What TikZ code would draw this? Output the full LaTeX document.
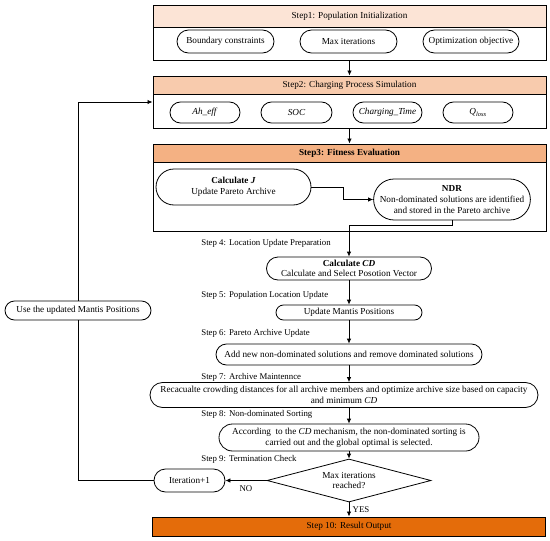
\documentclass[tikz,border=0pt]{standalone}
\usepackage{fontspec}
\setmainfont{Liberation Serif}
\usepackage{tikz}
\usetikzlibrary{shapes}
\usetikzlibrary{arrows}
\usetikzlibrary{arrows.meta}
\usetikzlibrary{positioning}
\usetikzlibrary{calc}

\definecolor{headA}{RGB}{252,228,214}
\definecolor{headB}{RGB}{248,203,173}
\definecolor{headC}{RGB}{244,177,131}
\definecolor{headD}{RGB}{228,108,10}

\begin{document}
\begin{tikzpicture}[x=1pt, y=-1pt, line width=0.8pt,
    font=\fontsize{9.2}{10.6}\selectfont,
    >={Latex[length=5pt, width=4.5pt]},
    pill/.style={draw, rounded rectangle, inner sep=1pt, align=center},
    stepbox/.style={draw, rectangle, minimum width=393, inner sep=0pt, line width=1pt},
    steplabel/.style={anchor=west, inner sep=0pt, font=\fontsize{8.8}{10}\selectfont}]
				\useasboundingbox (0, 0) rectangle (550, 541);

				% Step 1
				\node[stepbox, minimum height=33] (b1) at (349.5, 43.5) {};
				\node[stepbox, minimum height=22, fill=headA] (h1) at (349.5, 16) {Step1: Population Initialization};
				\node[pill, minimum width=99, minimum height=23] (bc) at (225.5, 41.5) {Boundary constraints};
				\node[pill, minimum width=99, minimum height=23] (mi) at (348.5, 41.5) {Max iterations};
				\node[pill, minimum width=98, minimum height=23] (oo) at (471, 41.5) {Optimization objective};

				% Step 2
				\node[stepbox, minimum height=34] (b2) at (349.5, 111) {};
				\node[stepbox, minimum height=18, fill=headB] (h2) at (349.5, 85) {Step2: Charging Process Simulation};
				\node[pill, minimum width=72, minimum height=21] (ah) at (205, 112.5) {\textit{Ah\_eff}};
				\node[pill, minimum width=73, minimum height=21] (soc) at (296.5, 112.5) {\textit{SOC}};
				\node[pill, minimum width=71, minimum height=21] (ct) at (387.5, 112.5) {\textit{Charging\_Time}};
				\node[pill, minimum width=72, minimum height=21] (ql) at (478, 112.5) {\textit{Q}\textsubscript{\textit{loss}}};

				% Step 3
				\node[stepbox, minimum height=69] (b3) at (349.5, 196.5) {};
				\node[stepbox, minimum height=18, fill=headC] (h3) at (349.5, 153) {\textbf{Step3: Fitness Evaluation}};
				\node[pill, minimum width=157, minimum height=36] (cj) at (233.5, 187) {\textbf{Calculate \textit{J}}\\Update Pareto Archive};
				\node[pill, minimum width=152, minimum height=41] (ndr) at (452, 199.5) {\textbf{NDR}\\Non-dominated solutions are identified\\and stored in the Pareto archive};

				% Steps 4 to 9
				\node[steplabel] (s4) at (201, 243.5) {Step 4: Location Update Preparation};
				\node[pill, minimum width=167, minimum height=23] (cd) at (349, 268.5) {\textbf{Calculate \textit{CD}}\\Calculate and Select Posotion Vector};
				\node[steplabel] (s5) at (201, 295.5) {Step 5: Population Location Update};
				\node[pill, minimum width=148, minimum height=15] (ump) at (349, 312.5) {Update Mantis Positions};
				\node[steplabel] (s6) at (201, 333.5) {Step 6: Pareto Archive Update};
				\node[pill, minimum width=268, minimum height=21] (add) at (349, 354.5) {Add new non-dominated solutions and remove dominated solutions};
				\node[steplabel] (s7) at (201, 377.5) {Step 7: Archive Maintennce};
				\node[pill, minimum width=388, minimum height=25, inner sep=0pt] (rec) at (344, 395) {Recacualte crowding distances for all archive members and optimize archive size based on capacity\\and minimum \textit{CD}};
				\node[steplabel] (s8) at (201, 414.5) {Step 8: Non-dominated Sorting};
				\node[pill, minimum width=262, minimum height=27] (acc) at (349, 437.5) {According~ to the \textit{CD} mechanism, the non-dominated sorting is\\carried out and the global optimal is selected.};
				\node[steplabel] (s9) at (201, 459.5) {Step 9: Termination Check};
				\node[draw, diamond, aspect=3.8, minimum width=164, minimum height=43, inner sep=0pt, align=center] (dia) at (349, 480.5) {Max iterations\\reached?};
				\node[pill, minimum width=73, minimum height=23] (it) at (189.5, 480.5) {Iteration+1};
				\node[pill, minimum width=148, minimum height=19] (use) at (78, 310.5) {Use the updated Mantis Positions};

				% Step 10
				\node[stepbox, minimum height=19, fill=headD] (s10) at (349, 526.5) {Step 10: Result Output};

				% connectors
				\draw[->] (b1.south) -- (h2.north);
				\draw[->] (b2.south) -- (h3.north);
				\draw[->] (cj.east) -- ++(32, 0) |- (ndr.west);
				\draw[->] (ndr.south) -- ++(0, 5) -| (cd.north);
				\draw[->] (cd.south) -- (ump.north);
				\draw[->] (ump.south) -- (add.north);
				\draw[->] (add.south) -- (add.south |- rec.north);
				\draw[->] (acc.north |- rec.south) -- (acc.north);
				\draw[->] (acc.south) -- (dia.north);
				\draw[->] (dia.south) -- (s10.north) node[midway, right, font=\fontsize{8.8}{10}\selectfont] {YES};
				\draw[->] (dia.west) -- (it.east) node[midway, below=1pt, font=\fontsize{8.8}{10}\selectfont] {NO};
				\draw (it.west) -| (use.south);
				\draw[->] (use.north) |- ([yshift=9pt]b2.west);
			\end{tikzpicture}
\end{document}
